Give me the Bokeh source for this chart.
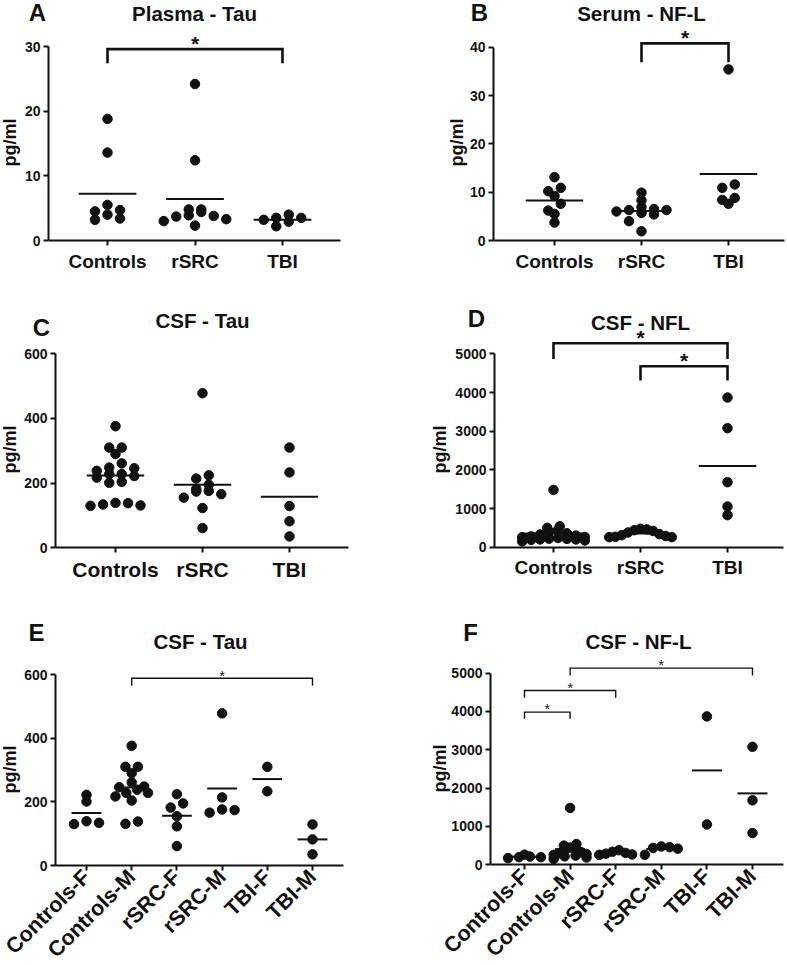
import math
import numpy as np
from bokeh.plotting import figure
from bokeh.models import FixedTicker, Label
from bokeh.layouts import row, column
from bokeh.embed import file_html
from bokeh.resources import INLINE

FONT = "Liberation Sans"
INK = "#111111"

# ---------------- data ----------------
GROUPS3 = ["Controls", "rSRC", "TBI"]
GROUPS6 = ["Controls-F", "Controls-M", "rSRC-F", "rSRC-M", "TBI-F", "TBI-M"]

plasma_tau_controls = [18.8, 13.6, 5.5, 4.7, 4.5, 4.0, 3.4, 3.2]
plasma_tau_rsrc = [24.2, 12.4, 4.8, 4.8, 4.4, 3.9, 3.8, 3.7, 3.3, 3.0, 2.3]
plasma_tau_tbi = [4.0, 3.5, 3.5, 3.2, 2.9, 2.2]

serum_nfl_controls = [13.1, 10.9, 10.2, 9.2, 7.6, 6.2, 5.5, 3.7]
serum_nfl_rsrc = [9.9, 8.3, 6.9, 6.5, 6.3, 6.3, 6.0, 5.7, 5.4, 4.0, 1.9]
serum_nfl_tbi = [35.4, 11.6, 10.9, 8.8, 8.4, 7.6]

csf_tau_controls_f = [222, 201, 139, 134, 130]
csf_tau_controls_m = [376, 310, 310, 290, 261, 248, 246, 238, 228, 228, 217, 204, 138, 131]
csf_tau_rsrc_f = [224, 195, 182, 155, 123, 61]
csf_tau_rsrc_m = [478, 214, 176, 174, 166]
csf_tau_tbi_f = [310, 233]
csf_tau_tbi_m = [129, 82, 35]

csf_nfl_controls_f = [265, 215, 200, 200, 175]
csf_nfl_controls_m = [1483, 540, 500, 450, 400, 360, 330, 300, 280, 260, 240, 220, 190, 150]
csf_nfl_rsrc_f = [380, 340, 310, 290, 270, 260]
csf_nfl_rsrc_m = [478, 460, 440, 420, 260]
csf_nfl_tbi_f = [3871, 1052]
csf_nfl_tbi_m = [3078, 1681, 828]

# significance brackets: (group a, group b, bracket top value, leg end value)
sig_plasma_tau = [(1, 3, 29.6, 27.4)]
sig_serum_nfl = [(2, 3, 40.8, 36.9)]
sig_csf_nfl = [(1, 3, 5276, 4871), (2, 3, 4681, 4310)]
sig_csf_tau_sex = [(2, 6, 588, 565)]
sig_csf_nfl_sex = [(1, 2, 3983, 3809), (1, 3, 4548, 4357), (2, 6, 5130, 4939)]


def swarm(groups, ppu, sp, d=9.5, step=12.5, maxw=0.72):
    """GraphPad-like scatter arrangement: points binned into rows of one dot height."""
    xs, ys = [], []
    for gi, vals in enumerate(groups, start=1):
        bins = {}
        for v in vals:
            bins.setdefault(int(math.floor(v * ppu / d)), []).append(v)
        for _, rv in sorted(bins.items()):
            rv = sorted(rv, reverse=True)
            n = len(rv)
            st = step if n <= 1 else min(step, maxw * sp / (n - 1))
            if n % 2 == 1:
                slots = [0]
                for k in range(1, n // 2 + 1):
                    slots += [k, -k]
            else:
                slots = []
                for k in range(n // 2):
                    slots += [k + 0.5, -(k + 0.5)]
            for v, s in zip(rv, slots):
                xs.append(gi + s * st / sp)
                ys.append(v)
    return xs, ys


def panel(groups, labels, g, yticks, title, letter, sigs, heavy, cat_fs, rot=False):
    W, H = g["W"], g["H"]
    ax_l, ax_r, y0px, c1, sp, ppu = (g[k] for k in ("ax_l", "ax_r", "y0px", "c1", "sp", "ppu"))
    x0 = 1 - c1 / sp
    x1 = x0 + W / sp
    yb = -(H - y0px) / ppu
    yt = y0px / ppu
    p = figure(width=W, height=H, x_range=(x0, x1), y_range=(yb, yt), min_border=0,
               output_backend="svg", toolbar_location=None, tools="")
    p.outline_line_color = None
    p.xgrid.visible = False
    p.ygrid.visible = False
    p.background_fill_color = "white"
    p.border_fill_color = "white"

    def dx(px):
        return x0 + px / sp

    def dy(py):
        return (y0px - py) / ppu

    for ax in (p.xaxis[0], p.yaxis[0]):
        ax.axis_line_width = 2
        ax.axis_line_color = INK
        ax.major_tick_line_width = 2
        ax.major_tick_line_color = INK
        ax.major_tick_in = 0
        ax.major_tick_out = 5
        ax.minor_tick_line_color = None
        ax.major_label_text_font = FONT
        ax.major_label_text_font_style = "bold"
        ax.major_label_text_color = INK
    p.yaxis.fixed_location = dx(ax_l)
    p.yaxis.ticker = FixedTicker(ticks=yticks)
    p.yaxis.bounds = (0, yticks[-1])
    p.yaxis.major_label_text_font_size = "14px"
    p.yaxis.major_label_standoff = 3
    n = len(groups)
    p.xaxis.fixed_location = 0
    p.xaxis.bounds = (dx(ax_l), dx(ax_r))
    p.xaxis.ticker = FixedTicker(ticks=list(range(1, n + 1)))
    p.xaxis.major_label_overrides = {i + 1: lab for i, lab in enumerate(labels)}
    p.xaxis.major_label_text_font_size = cat_fs
    p.xaxis.major_label_standoff = 5 if not rot else 3
    if rot:
        p.xaxis.major_label_orientation = math.pi / 4

    xs, ys = swarm(groups, ppu, sp)
    p.scatter(xs, ys, size=9.5, color=INK)
    means = [float(np.mean(v)) for v in groups]
    cx = list(range(1, n + 1))
    p.segment(x0=[c - 0.33 for c in cx], y0=means, x1=[c + 0.33 for c in cx], y1=means,
              line_width=2, color=INK)

    lw = 2.6 if heavy else 1.4
    sfs = 21 if heavy else 14
    soff = 10.5 if heavy else 6
    for a, b, top, leg in sigs:
        p.line([a, a, b, b], [leg, top, top, leg], line_width=lw, color=INK, line_join="miter")
        top_px = y0px - top * ppu
        mid_px = top_px - soff + 0.23 * sfs
        p.add_layout(Label(x=(a + b) / 2, y=dy(mid_px), text="*", text_align="center",
                           text_baseline="middle", text_font=FONT,
                           text_font_size=f"{sfs}px",
                           text_font_style="bold" if heavy else "normal", text_color=INK))

    tx, ty = g["title"]
    p.add_layout(Label(x=dx(tx), y=dy(ty), text=title, text_align="center",
                       text_baseline="middle", text_font=FONT, text_font_size="20.5px",
                       text_font_style="bold", text_color=INK))
    lx, ly = g["letter"]
    p.add_layout(Label(x=dx(lx), y=dy(ly), text=letter, text_align="center",
                       text_baseline="middle", text_font=FONT, text_font_size="24px",
                       text_font_style="bold", text_color=INK))
    yx, yy = g["ylab"]
    p.add_layout(Label(x=dx(yx), y=dy(yy), text="pg/ml", angle=math.pi / 2,
                       text_align="center", text_baseline="middle", text_font=FONT,
                       text_font_size="18px", text_font_style="bold", text_color=INK))
    return p


# layout geometry (pixels inside each figure, origin top-left)
gA = dict(W=393, H=285, ax_l=48, ax_r=340, y0px=240, c1=107, sp=87.5, ppu=194 / 30,
          title=(194, 13.4), letter=(37, 12), ylab=(9, 142))
gB = dict(W=392, H=285, ax_l=100, ax_r=391, y0px=240, c1=161, sp=87, ppu=193.3 / 40,
          title=(248, 13), letter=(86, 12), ylab=(63, 142))
gC = dict(W=393, H=305, ax_l=55, ax_r=348, y0px=262.3, c1=115, sp=87, ppu=194 / 600,
          title=(202, 35), letter=(41, 42), ylab=(9, 164))
gD = dict(W=392, H=305, ax_l=101, ax_r=390, y0px=261.7, c1=160, sp=87, ppu=193.3 / 5000,
          title=(247, 36.7), letter=(83, 32.5), ylab=(46, 164))
gE = dict(W=393, H=373, ax_l=55, ax_r=343, y0px=275, c1=86, sp=45.2, ppu=191 / 600,
          title=(200, 50.5), letter=(36, 42), ylab=(9, 179))
gF = dict(W=392, H=373, ax_l=97, ax_r=390, y0px=274.3, c1=131, sp=45.6, ppu=191.7 / 5000,
          title=(245, 50.5), letter=(77, 42), ylab=(46, 178))

pA = panel([plasma_tau_controls, plasma_tau_rsrc, plasma_tau_tbi], GROUPS3, gA,
           [0, 10, 20, 30], "Plasma - Tau", "A", sig_plasma_tau, True, "19px")
pB = panel([serum_nfl_controls, serum_nfl_rsrc, serum_nfl_tbi], GROUPS3, gB,
           [0, 10, 20, 30, 40], "Serum - NF-L", "B", sig_serum_nfl, True, "19px")
pC = panel([csf_tau_controls_f + csf_tau_controls_m, csf_tau_rsrc_f + csf_tau_rsrc_m,
            csf_tau_tbi_f + csf_tau_tbi_m], GROUPS3, gC,
           [0, 200, 400, 600], "CSF - Tau", "C", [], True, "21px")
pD = panel([csf_nfl_controls_f + csf_nfl_controls_m, csf_nfl_rsrc_f + csf_nfl_rsrc_m,
            csf_nfl_tbi_f + csf_nfl_tbi_m], GROUPS3, gD,
           [0, 1000, 2000, 3000, 4000, 5000], "CSF - NFL", "D", sig_csf_nfl, True, "19px")
pE = panel([csf_tau_controls_f, csf_tau_controls_m, csf_tau_rsrc_f, csf_tau_rsrc_m,
            csf_tau_tbi_f, csf_tau_tbi_m], GROUPS6, gE,
           [0, 200, 400, 600], "CSF - Tau", "E", sig_csf_tau_sex, False, "21.5px", rot=True)
pF = panel([csf_nfl_controls_f, csf_nfl_controls_m, csf_nfl_rsrc_f, csf_nfl_rsrc_m,
            csf_nfl_tbi_f, csf_nfl_tbi_m], GROUPS6, gF,
           [0, 1000, 2000, 3000, 4000, 5000], "CSF - NF-L", "F", sig_csf_nfl_sex, False,
           "21.5px", rot=True)

layout = column(row(pA, pB), row(pC, pD), row(pE, pF))
open("out.html", "w").write(file_html(layout, INLINE))
